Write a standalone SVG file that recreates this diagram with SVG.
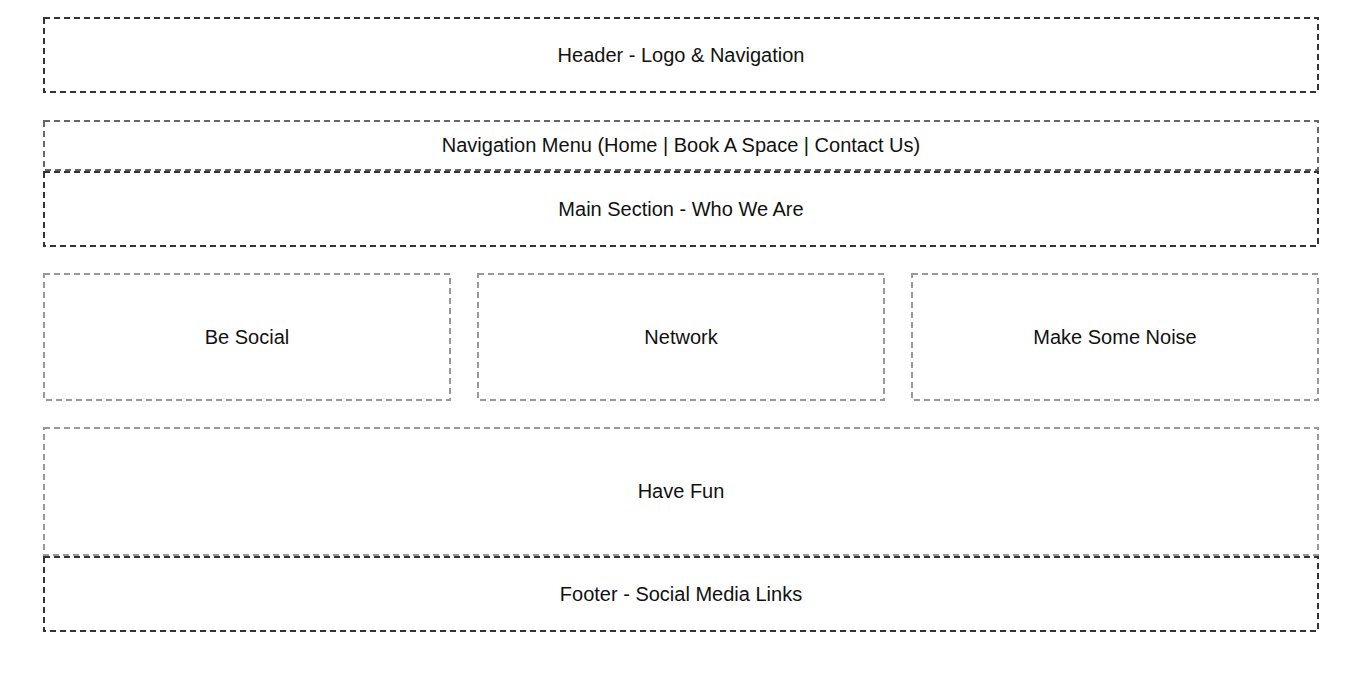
<svg xmlns="http://www.w3.org/2000/svg" width="1362" height="697" viewBox="0 0 1362 697">
<style>
.box{fill:none;stroke-width:2;stroke-dasharray:6 4}
.dark{stroke:#333}
.mid{stroke:#666}
.light{stroke:#999}
text{font-family:"Liberation Sans",Arial,sans-serif;font-size:20px;fill:#111;text-anchor:middle}
</style>
<rect width="1362" height="697" fill="#fff"/>
<g id="header"><rect class="box dark" x="44" y="18" width="1274" height="74"/><text x="681" y="62">Header - Logo &amp; Navigation</text></g>
<g id="nav"><rect class="box mid" x="44" y="121" width="1274" height="49"/><text x="681" y="152">Navigation Menu (Home | Book A Space | Contact Us)</text></g>
<g id="main"><rect class="box dark" x="44" y="172" width="1274" height="74"/><text x="681" y="216">Main Section - Who We Are</text></g>
<g id="social"><rect class="box light" x="44" y="274" width="406" height="126"/><text x="247" y="344">Be Social</text></g>
<g id="network"><rect class="box light" x="478" y="274" width="406" height="126"/><text x="681" y="344">Network</text></g>
<g id="noise"><rect class="box light" x="912" y="274" width="406" height="126"/><text x="1115" y="344">Make Some Noise</text></g>
<g id="fun"><rect class="box light" x="44" y="428" width="1274" height="127"/><text x="681" y="498">Have Fun</text></g>
<g id="footer"><rect class="box dark" x="44" y="557" width="1274" height="74"/><text x="681" y="601">Footer - Social Media Links</text></g>
<g id="connectors"></g>
</svg>
